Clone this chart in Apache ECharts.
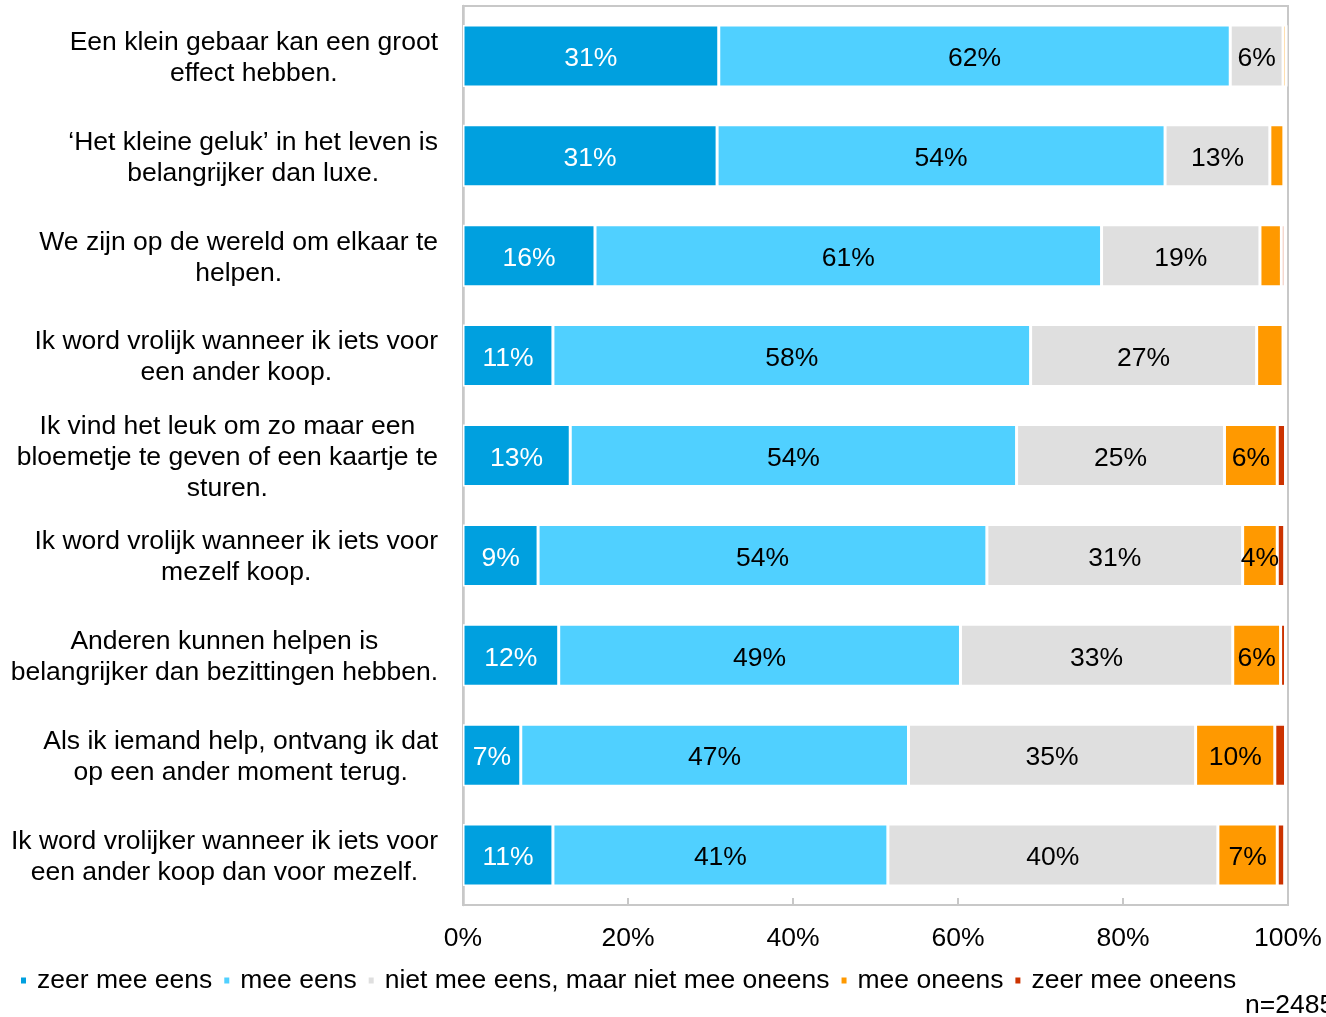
<!DOCTYPE html>
<html>
<head>
<meta charset="utf-8">
<script src="https://cdn.jsdelivr.net/npm/echarts@6/dist/echarts.min.js"></script>
<style>
  html, body { margin: 0; padding: 0; background: #fff; }
  #main { width: 1326px; height: 1017px; }
</style>
</head>
<body>
<div id="main"></div>
<script type="text/javascript">
// stellingen, van boven naar beneden
var stellingen = [
  'Een klein gebaar kan een groot\neffect hebben.',
  '\u2018Het kleine geluk\u2019 in het leven is\nbelangrijker dan luxe.',
  'We zijn op de wereld om elkaar te\nhelpen.',
  'Ik word vrolijk wanneer ik iets voor\neen ander koop.',
  'Ik vind het leuk om zo maar een\nbloemetje te geven of een kaartje te\nsturen.',
  'Ik word vrolijk wanneer ik iets voor\nmezelf koop.',
  'Anderen kunnen helpen is\nbelangrijker dan bezittingen hebben.',
  'Als ik iemand help, ontvang ik dat\nop een ander moment terug.',
  'Ik word vrolijker wanneer ik iets voor\neen ander koop dan voor mezelf.'
];
var antwoorden = ['zeer mee eens', 'mee eens', 'niet mee eens, maar niet mee oneens', 'mee oneens', 'zeer mee oneens'];
var kleuren = ['#00A0DF', '#50D0FF', '#DFDFDF', '#FF9900', '#CC3300'];

// percentages per antwoord
var zeerMeeEens   = [31.0, 30.8, 16.0, 10.9, 13.0, 9.1, 11.6, 7.0, 10.9];
var meeEens       = [62.0, 54.3, 61.4, 57.9, 54.1, 54.4, 48.7, 47.0, 40.6];
var neutraal      = [6.4, 12.7, 19.2, 27.4, 25.2, 31.0, 33.0, 34.8, 40.0];
var meeOneens     = [0.4, 1.7, 2.6, 3.2, 6.4, 4.2, 5.8, 9.6, 7.2];
var zeerMeeOneens = [0.1, 0.3, 0.4, 0.3, 1.0, 0.9, 0.6, 1.3, 0.9];
var reeksen = [zeerMeeEens, meeEens, neutraal, meeOneens, zeerMeeOneens];

var xTicks = [0, 20, 40, 60, 80, 100];
var font = 'Liberation Sans, Arial, sans-serif';
var fs = 26.5;

var chart = echarts.init(document.getElementById('main'));

var series = [];
for (var i = 0; i < reeksen.length; i++) {
  series.push({
    name: antwoorden[i],
    type: 'bar',
    stack: 'totaal',
    barWidth: 62,
    data: reeksen[i],
    itemStyle: { color: kleuren[i], borderColor: '#fff', borderWidth: 1.5 },
    label: {
      show: true,
      position: 'inside',
      offset: [0, 3],
      fontFamily: font,
      fontSize: fs,
      color: i === 0 ? '#fff' : '#000',
      formatter: function (p) {
        return p.value >= 3.5 ? Math.round(p.value) + '%' : '';
      }
    }
  });
}

chart.setOption({
  animation: false,
  textStyle: { fontFamily: font },
  grid: {
    left: 463, right: 38, top: 6, bottom: 112,
    containLabel: false,
    show: true, borderColor: '#C8C8C8', borderWidth: 2
  },
  legend: {
    data: antwoorden,
    left: 14, top: 962,
    icon: 'rect',
    itemWidth: 7, itemHeight: 8,
    itemGap: 10,
    textStyle: { fontFamily: font, fontSize: fs, color: '#000', padding: [0, 0, 0, 5] }
  },
  xAxis: {
    type: 'value',
    min: xTicks[0], max: xTicks[xTicks.length - 1], interval: 20,
    axisLine: { show: true, lineStyle: { color: '#C8C8C8', width: 2 } },
    axisTick: { show: true, inside: true, length: 7, lineStyle: { color: '#C8C8C8', width: 2 } },
    splitLine: { show: false },
    axisLabel: {
      margin: 20, fontSize: fs, color: '#000', fontFamily: font,
      formatter: function (v) { return v + '%'; }
    }
  },
  yAxis: {
    type: 'category',
    inverse: true,
    data: stellingen,
    axisLine: { show: true, lineStyle: { color: '#C8C8C8', width: 2.5 } },
    axisTick: { show: false },
    axisLabel: {
      margin: 25,
      padding: [4, 0, 0, 0],
      formatter: function (v) {
        return v.split('\n').map(function (r) { return '{c|' + r + '}'; }).join('\n');
      },
      rich: {
        c: { align: 'center', fontSize: fs, lineHeight: 31, color: '#000', fontFamily: font }
      }
    }
  },
  graphic: [{
    type: 'text',
    left: 1245, top: 992,
    style: { text: 'n=2485', fontSize: fs, fill: '#000', fontFamily: font }
  }],
  series: series
});
</script>
</body>
</html>
